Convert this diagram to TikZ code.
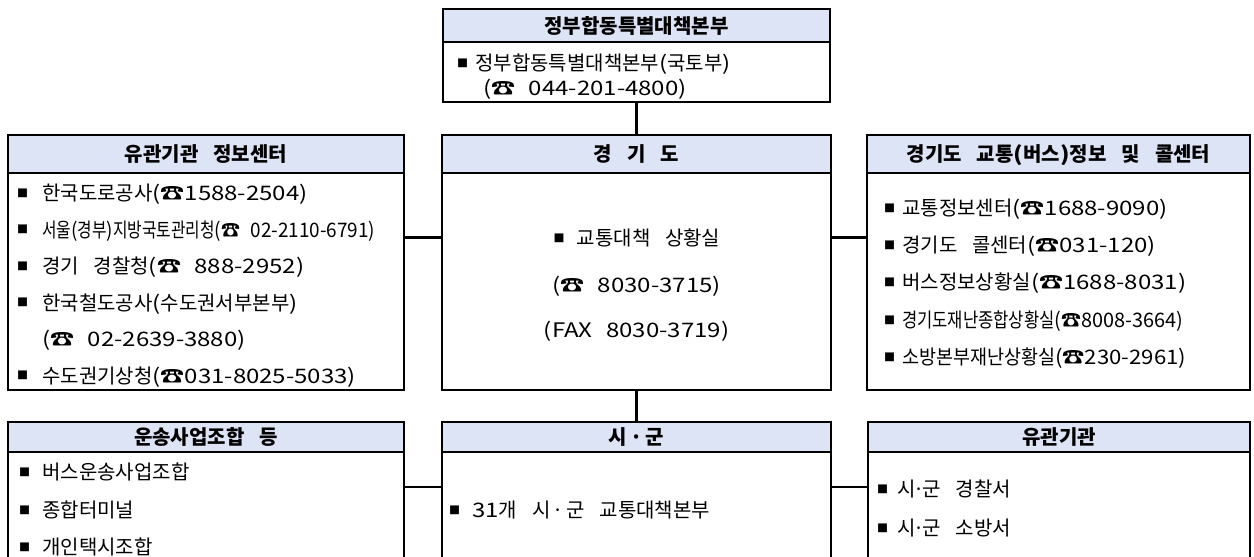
\documentclass[tikz,border=0pt]{standalone}
\usepackage{fontspec}
\usepackage{graphicx}
\setmainfont{Noto Sans CJK KR}[WordSpace=3.3]
\newfontfamily\latf{Noto Sans CJK KR}[FakeStretch=1.2, WordSpace=2.5]
\definecolor{hdr}{RGB}{221,228,246}
\newsavebox\fitbox
\newcommand\lt[1]{{\latf #1}}
\newcommand\dt[1][0.7em]{\makebox[#1][c]{·}}
\newcommand\bul[1][20]{\llap{\raisebox{3.3pt}{\fontsize{11}{11}\selectfont ■}\hspace{\dimexpr #1pt - 9.8pt\relax}}}
\newcommand\bulc[1][20]{\raisebox{3.3pt}{\fontsize{11}{11}\selectfont ■}\hspace{\dimexpr #1pt - 9.8pt\relax}}
\newcommand\fitto[2]{\sbox\fitbox{#2}\scalebox{\fpeval{#1/\wd\fitbox}}[1]{\usebox\fitbox}}
\tikzset{
  box/.style={draw, line width=2.4pt, inner sep=0pt, outer sep=0pt},
  hdrbox/.style={draw, fill=hdr, line width=1.8pt, inner sep=0pt, outer sep=0pt,
     font=\fontsize{20}{20}\selectfont\bfseries, text height=17.2pt, text depth=2pt},
  txt/.style={font=\fontsize{20}{20}\selectfont, inner sep=0pt, text height=17.2pt, text depth=2pt, anchor=west},
  ctxt/.style={txt, anchor=center},
  conn/.style={line width=2.4pt},
}
\begin{document}
\begin{tikzpicture}[x=1pt,y=-1pt]
\path[use as bounding box] (0,0) rectangle (1254,557);
\clip (0,0) rectangle (1254,557);
% ---------- top ----------
\node[hdrbox, minimum width=387pt, minimum height=33pt] (th) at (636.5,25.5) {정부합동특별대책본부};
\node[box, minimum width=387pt, minimum height=93pt] (tbox) at (636.5,55.5) {};
\node[txt] (t1) at (475,63) {\bul[17]정부합동특별대책본부\lt{(}국토부\lt{)}};
\node[txt] (t2) at (483,88) {\lt{(☎ 044-201-4800)}};
% ---------- middle left ----------
\node[hdrbox, minimum width=396pt, minimum height=38pt] (lh) at (206,154) {유관기관 정보센터};
\node[box, minimum width=396pt, minimum height=255pt] (lbox) at (206,262.5) {};
\node[txt] (l1) at (42,193) {\bul[24]한국도로공사\lt{(☎1588-2504)}};
\node[txt] (l2) at (42,229.5) {\bul[24]\fitto{333pt}{서울\lt{(}경부\lt{)}지방국토관리청\lt{(☎ 02-2110-6791)}}};
\node[txt] (l3) at (42,266) {\bul[24]경기 경찰청\lt{(☎ 888-2952)}};
\node[txt] (l4) at (42,302.5) {\bul[24]한국철도공사\lt{(}수도권서부본부\lt{)}};
\node[txt] (l5) at (42,339) {\lt{(☎ 02-2639-3880)}};
\node[txt] (l6) at (42,375.5) {\bul[24]수도권기상청\lt{(☎031-8025-5033)}};
% ---------- middle center ----------
\node[hdrbox, minimum width=389pt, minimum height=38pt] (ch) at (636.5,154) {경 기 도};
\node[box, minimum width=389pt, minimum height=255pt] (cbox) at (636.5,262.5) {};
\node[ctxt] (c1) at (637,238) {\bulc[22]교통대책 상황실};
\node[ctxt] (c2) at (636.5,285) {\lt{(☎ 8030-3715)}};
\node[ctxt] (c3) at (636.5,330) {\lt{(FAX 8030-3719)}};
% ---------- middle right ----------
\node[hdrbox, minimum width=383pt, minimum height=38pt] (rh) at (1058.5,154) {경기도 교통\lt{(}버스\lt{)}정보 및 콜센터};
\node[box, minimum width=383pt, minimum height=255pt] (rbox) at (1058.5,262.5) {};
\node[txt] (r1) at (902,208) {\bul[17]교통정보센터\lt{(☎1688-9090)}};
\node[txt] (r2) at (902,245) {\bul[17]경기도 콜센터\lt{(☎031-120)}};
\node[txt] (r3) at (902,282) {\bul[17]버스정보상황실\lt{(☎1688-8031)}};
\node[txt] (r4) at (902,320) {\bul[17]\fitto{281pt}{경기도재난종합상황실\lt{(☎8008-3664)}}};
\node[txt] (r5) at (902,357) {\bul[17]\fitto{284pt}{소방본부재난상황실\lt{(☎230-2961)}}};
% ---------- bottom left ----------
\node[hdrbox, minimum width=396pt, minimum height=30pt] (blh) at (206,437) {운송사업조합 등};
\node[box, minimum width=396pt, minimum height=198pt] (blbox) at (206,521) {};
\node[txt] (b1) at (42,472) {\bul[22]버스운송사업조합};
\node[txt] (b2) at (42,510) {\bul[22]종합터미널};
\node[txt] (b3) at (42,547) {\bul[22]개인택시조합};
% ---------- bottom center ----------
\node[hdrbox, minimum width=389pt, minimum height=30pt] (bch) at (636.5,437) {시\dt[0.95em]군};
\node[box, minimum width=389pt, minimum height=198pt] (bcbox) at (636.5,521) {};
\node[txt] (m1) at (472,510) {\bul[22]\lt{31}개 시\dt[0.8em]군 교통대책본부};
% ---------- bottom right ----------
\node[hdrbox, minimum width=382pt, minimum height=30pt] (brh) at (1059,437) {유관기관};
\node[box, minimum width=382pt, minimum height=198pt] (brbox) at (1059,521) {};
\node[txt] (n1) at (897,489) {\bul[19]시\dt[0.35em]군 경찰서};
\node[txt] (n2) at (897,528) {\bul[19]시\dt[0.35em]군 소방서};
% ---------- connectors ----------
\coordinate (jA) at (423,237.5);
\coordinate (jB) at (849,237.5);
\coordinate (jC) at (423,487);
\coordinate (jD) at (849.5,487);
\draw[conn] (tbox.south) -- (ch.north);
\draw[conn] (lbox.east |- jA) -- (cbox.west |- jA);
\draw[conn] (cbox.east |- jB) -- (rbox.west |- jB);
\draw[conn] (cbox.south) -- (bch.north);
\draw[conn] (blbox.east |- jC) -- (bcbox.west |- jC);
\draw[conn] (bcbox.east |- jD) -- (brbox.west |- jD);
\end{tikzpicture}
\end{document}
